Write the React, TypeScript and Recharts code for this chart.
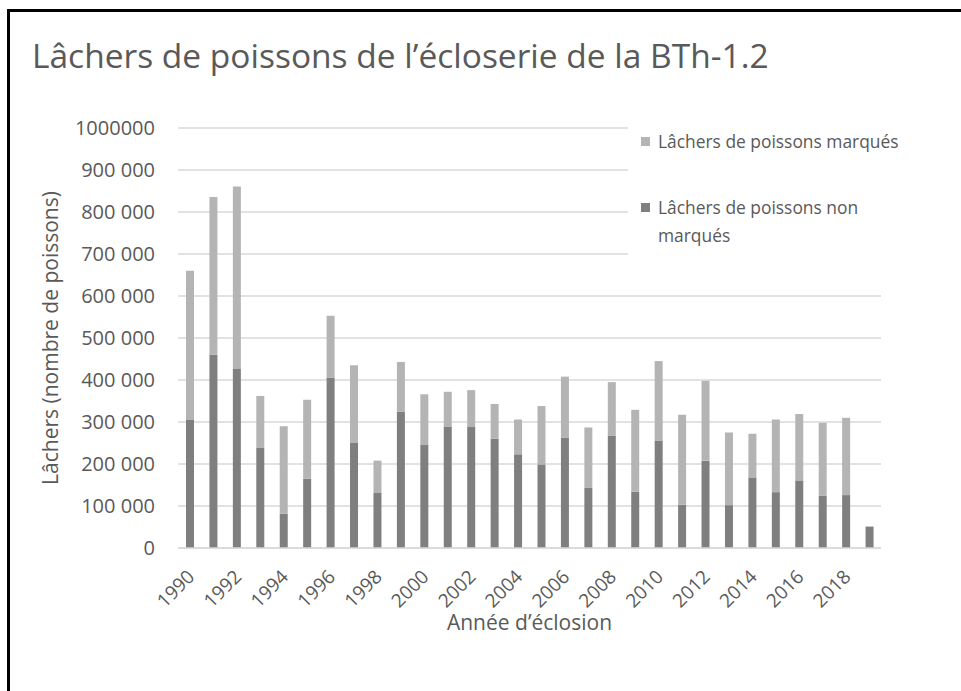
import React from 'react';
import { BarChart, Bar, XAxis, YAxis, CartesianGrid, Legend } from 'recharts';

const years = ['1990','1991','1992','1993','1994','1995','1996','1997','1998','1999','2000','2001','2002','2003','2004','2005','2006','2007','2008','2009','2010','2011','2012','2013','2014','2015','2016','2017','2018','2019'];
const nonMarked = [305000, 460000, 426000, 239000, 82000, 165000, 406000, 250000, 131000, 325000, 245000, 289000, 288000, 260000, 223000, 199000, 263000, 143000, 267000, 134000, 256000, 103000, 208000, 102000, 168000, 133000, 161000, 124000, 126000, 51000];
const marked = [355000, 376000, 435000, 123000, 208000, 188000, 147000, 185000, 77000, 118000, 121000, 83000, 88000, 83000, 83000, 139000, 145000, 144000, 128000, 195000, 189000, 214000, 190000, 173000, 104000, 173000, 158000, 174000, 184000, 0];
const yTicks = [0, 100000, 200000, 300000, 400000, 500000, 600000, 700000, 800000, 900000, 1000000];

const seriesNames = {
  nonMarked: 'Lâchers de poissons non marqués',
  marked: 'Lâchers de poissons marqués',
};
const legendOrder = ['marked', 'nonMarked'];

const data = years.map((y, i) => ({ year: y, nonMarked: nonMarked[i], marked: marked[i] }));

const TEXT = '#595959';
const FONT = '"Open Sans", sans-serif';

const fmtY = (v: number) => {
  if (v >= 1000000) return String(v);
  if (v === 0) return '0';
  const s = String(v);
  return s.slice(0, s.length - 3) + ' ' + s.slice(s.length - 3);
};

const XTick = (props: any) => {
  const { x, y, payload } = props;
  return (
    <g transform={`translate(${x + 6},${y + 30})`}>
      <text x={0} y={0} textAnchor="end" transform="rotate(-45)" fill={TEXT} fontSize={19} fontFamily={FONT}>
        {payload.value}
      </text>
    </g>
  );
};

const renderLegend = (props: any) => {
  const items = legendOrder
    .map((k) => (props.payload || []).find((p: any) => p.dataKey === k))
    .filter(Boolean);
  return (
    <div style={{ position: 'relative', width: 333, height: 150, background: '#fff', fontFamily: FONT }}>
      {items.map((p: any, i: number) => (
        <div key={i} style={{ position: 'absolute', left: 13, top: i === 0 ? 9 : 75, display: 'flex', alignItems: 'flex-start' }}>
          <div style={{ width: 9, height: 9, background: p.color, marginTop: 10, marginRight: 8 }} />
          <div style={{ width: 250, fontSize: 17.4, lineHeight: '28px', color: TEXT }}>{p.value}</div>
        </div>
      ))}
    </div>
  );
};

const YTitle = (props: any) => {
  const vb = props.viewBox || { x: 0, y: 128, width: 178, height: 420 };
  const cx = vb.x + 50;
  const cy = vb.y + vb.height / 2;
  return (
    <text x={cx} y={cy} transform={`rotate(-90, ${cx}, ${cy})`} textAnchor="middle" dominantBaseline="central" fill={TEXT} fontSize={21} fontFamily={FONT}>
      Lâchers (nombre de poissons)
    </text>
  );
};

const XTitle = (props: any) => {
  const vb = props.viewBox || { x: 178, y: 548, width: 703, height: 143 };
  const cx = vb.x + vb.width / 2;
  const cy = vb.y + 74;
  return (
    <text x={cx} y={cy} textAnchor="middle" dominantBaseline="central" fill={TEXT} fontSize={21} fontFamily={FONT}>
      Année d’éclosion
    </text>
  );
};

export default function App() {
  return (
    <div style={{ position: 'fixed', left: 0, top: 0, width: 961, height: 691, background: '#fff', overflow: 'hidden', fontFamily: FONT }}>
      <div style={{ position: 'absolute', left: 7, top: 9, right: -5, bottom: -5, borderTop: '3px solid #000', borderLeft: '3px solid #000' }} />
      <BarChart
        width={961}
        height={691}
        data={data}
        margin={{ top: 128, right: 80, bottom: 0, left: 0 }}
        style={{ position: 'absolute', left: 0, top: 0 }}
      >
        <CartesianGrid vertical={false} stroke="#d9d9d9" strokeWidth={1.3} />
        <XAxis
          dataKey="year"
          interval={1}
          tickLine={false}
          tickSize={0}
          tickMargin={0}
          axisLine={{ stroke: '#d9d9d9', strokeWidth: 1.3 }}
          height={143}
          tick={<XTick />}
          label={{ content: (p: any) => <XTitle {...p} /> }}
        />
        <YAxis
          width={178}
          domain={[0, 1000000]}
          ticks={yTicks}
          tickFormatter={fmtY}
          axisLine={false}
          tickLine={false}
          tickSize={0}
          tickMargin={23}
          tick={{ fill: TEXT, fontSize: 20, fontFamily: FONT }}
          label={{ content: (p: any) => <YTitle {...p} /> }}
        />
        <Legend
          layout="vertical"
          align="center"
          verticalAlign="middle"
          content={renderLegend}
          wrapperStyle={{ left: 628, top: 118, width: 333, height: 150 }}
        />
        <Bar dataKey="nonMarked" name={seriesNames.nonMarked} stackId="a" fill="#7f7f7f" barSize={8} isAnimationActive={false} />
        <Bar dataKey="marked" name={seriesNames.marked} stackId="a" fill="#b4b4b4" barSize={8} isAnimationActive={false} />
      </BarChart>
      <div style={{ position: 'absolute', left: 32, top: 33, fontSize: 33.5, color: TEXT, fontFamily: FONT, whiteSpace: 'nowrap', lineHeight: '44px' }}>
        Lâchers de poissons de l’écloserie de la BTh-1.2
      </div>
    </div>
  );
}
